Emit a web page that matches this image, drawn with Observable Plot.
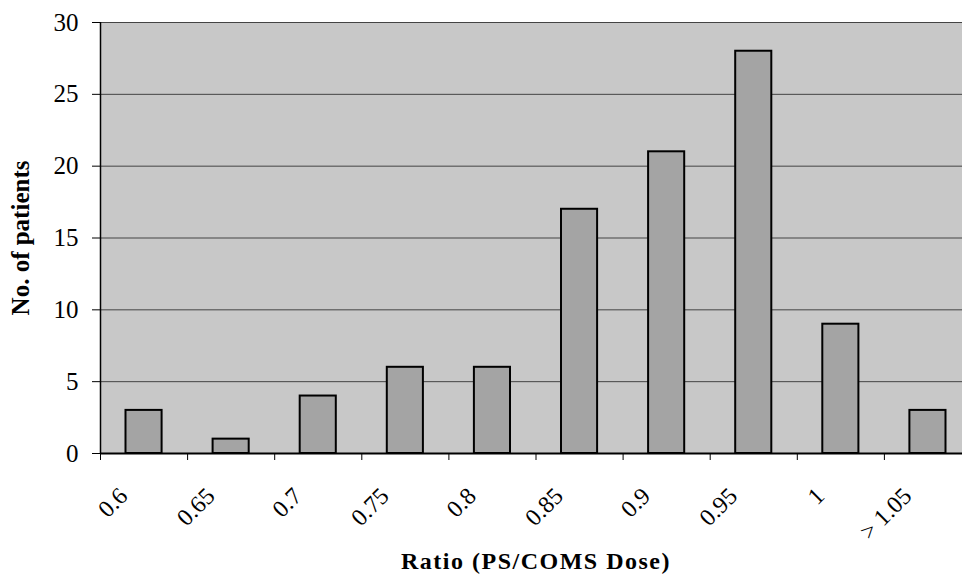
<!DOCTYPE html>
<html><head><meta charset="utf-8">
<script src="https://cdn.jsdelivr.net/npm/d3@7"></script>
<script src="https://cdn.jsdelivr.net/npm/@observablehq/plot@0.6"></script>
<style>body{margin:0;background:#fff;overflow:hidden}</style>
</head><body><div id="chart"></div>
<script>
const categories = ["0.6","0.65","0.7","0.75","0.8","0.85","0.9","0.95","1","> 1.05"];
const patients = [3,1,4,6,6,17,21,28,9,3];
const yTicks = [0,5,10,15,20,25,30];
const yLabel = "No. of patients";
const xLabel = "Ratio (PS/COMS Dose)";

const data = categories.map((c,i)=>({c, i, n: patients[i]}));
const bounds = d3.range(categories.length + 1);

const chart = Plot.plot({
  width: 962, height: 575,
  marginLeft: 100, marginTop: 22, marginBottom: 122, marginRight: 0,
  style: {fontFamily: "'Liberation Serif', 'Times New Roman', serif", fontSize: "25px", color: "#000", background: "#fff"},
  x: {domain: [0, categories.length], range: [100, 971]},
  y: {domain: [0, 30]},
  marks: [
    Plot.frame({fill: "#c8c8c8", stroke: "none"}),
    Plot.ruleY(yTicks.filter(t => t > 0), {y: d => d, stroke: "#444", strokeWidth: 1}),
    Plot.rectY(data, {x1: "i", x2: d => d.i + 1, y: "n", insetLeft: 25.5, insetRight: 25.5, fill: "#a4a4a4", stroke: "#000", strokeWidth: 2}),
    Plot.ruleX([0], {stroke: "#000", strokeWidth: 1.5}),
    Plot.ruleY([0], {stroke: "#000", strokeWidth: 2}),
    Plot.axisY({ticks: yTicks, tickSize: 8, tickPadding: 14, label: null, fontSize: 25}),
    Plot.axisX({ticks: bounds, tickSize: 7, tickFormat: () => "", label: null}),
    Plot.text(data, {x: d => d.i + 0.5, y: 0, text: "c", rotate: -45, textAnchor: "end", lineAnchor: "bottom", dx: -15, dy: 44, fontSize: 24}),
    Plot.text([yLabel], {frameAnchor: "left", dx: -80, rotate: -90, textAnchor: "middle", fontWeight: "bold", fontSize: 25}),
    Plot.text([{x: categories.length / 2, t: xLabel}], {x: "x", frameAnchor: "bottom", dy: 115, text: "t", lineAnchor: "bottom", fontWeight: "bold", fontSize: 24})
  ]
});
d3.select(chart).selectAll("text").filter(function(){ return this.textContent === xLabel; }).attr("letter-spacing", "1.5px");
document.getElementById("chart").appendChild(chart);
</script>
</body></html>
